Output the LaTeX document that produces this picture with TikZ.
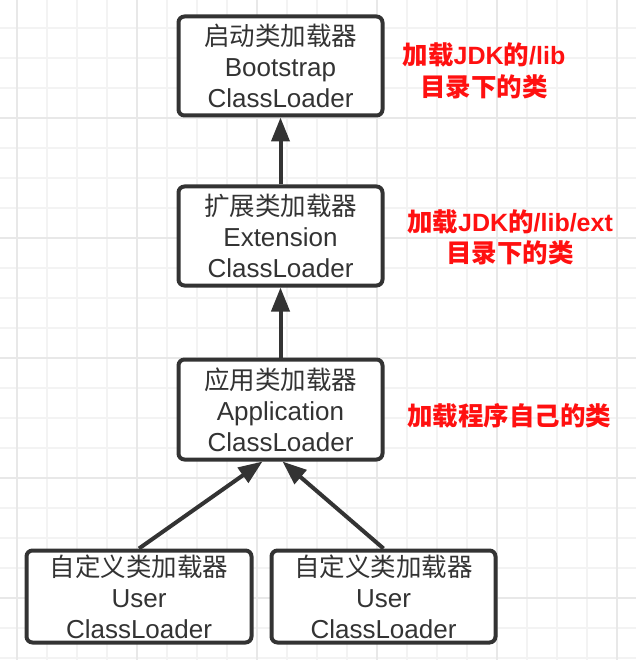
\documentclass[tikz,border=0pt]{standalone}
\usepackage{fontspec}
\setmainfont{Liberation Sans}
\newfontfamily\cjk{Noto Sans CJK SC}
\usetikzlibrary{arrows.meta}
\definecolor{ink}{HTML}{333333}
\definecolor{gridminor}{HTML}{F3F3F3}
\definecolor{gridmajor}{HTML}{E8E8E8}
\definecolor{lblred}{HTML}{FF1010}
\newcommand{\zh}[1]{{\cjk\fontsize{25.5}{31}\selectfont #1}}
\begin{document}
\begin{tikzpicture}[x=1pt,y=-1pt,
  box/.style={draw=ink, line width=4pt, rounded corners=6pt, fill=white, text=ink,
    align=center, inner sep=0pt, font=\fontsize{26}{31}\selectfont},
  link/.style={draw=ink, line width=4pt, -{Triangle[length=24pt,width=18pt]}},
  note/.style={text=lblred, align=center, inner sep=0pt, font=\bfseries\fontsize{25}{31}\selectfont}]
\useasboundingbox (0,0) rectangle (636,660);
\fill[white] (0,0) rectangle (636,660);
\foreach \x in {17,47,...,636} \draw[gridminor, line width=1.5pt] (\x,0) -- (\x,660);
\foreach \y in {28,58,...,660} \draw[gridminor, line width=1.5pt] (0,\y) -- (636,\y);
\foreach \x in {17,137,...,636} \draw[gridmajor, line width=1.5pt] (\x,0) -- (\x,660);
\foreach \y in {118,238,...,660} \draw[gridmajor, line width=1.5pt] (0,\y) -- (636,\y);

\node[box, minimum width=204pt, minimum height=99pt] (b1) at (280.5,66) {\zh{启动类加载器}\\Bootstrap\\ClassLoader};
\node[box, minimum width=204pt, minimum height=99pt] (b2) at (280.5,236) {\zh{扩展类加载器}\\Extension\\ClassLoader};
\node[box, minimum width=204pt, minimum height=100pt] (b3) at (280.5,409.5) {\zh{应用类加载器}\\Application\\ClassLoader};
\node[box, minimum width=225pt, minimum height=92pt] (u1) at (139,596.5) {\zh{自定义类加载器}\\User\\ClassLoader};
\node[box, minimum width=224pt, minimum height=92pt] (u2) at (383.5,596.5) {\zh{自定义类加载器}\\User\\ClassLoader};

\draw[link] (b2.north) -- (b1.south);
\draw[link] (b3.north) -- (b2.south);
\draw[link] (u1.north) -- ([xshift=-18pt]b3.south);
\draw[link] (u2.north) -- ([xshift=2pt]b3.south);

\node[note] (n1) at (484,71) {\zh{\bfseries 加载}JDK\zh{\bfseries 的}/lib\\[1pt]\zh{\bfseries 目录下的类}};
\node[note] (n2) at (510,237.5) {\zh{\bfseries 加载}JDK\zh{\bfseries 的}/lib/ext\\\zh{\bfseries 目录下的类}};
\node[note] (n3) at (509,416) {\zh{\bfseries 加载程序自己的类}};
\end{tikzpicture}
\end{document}
